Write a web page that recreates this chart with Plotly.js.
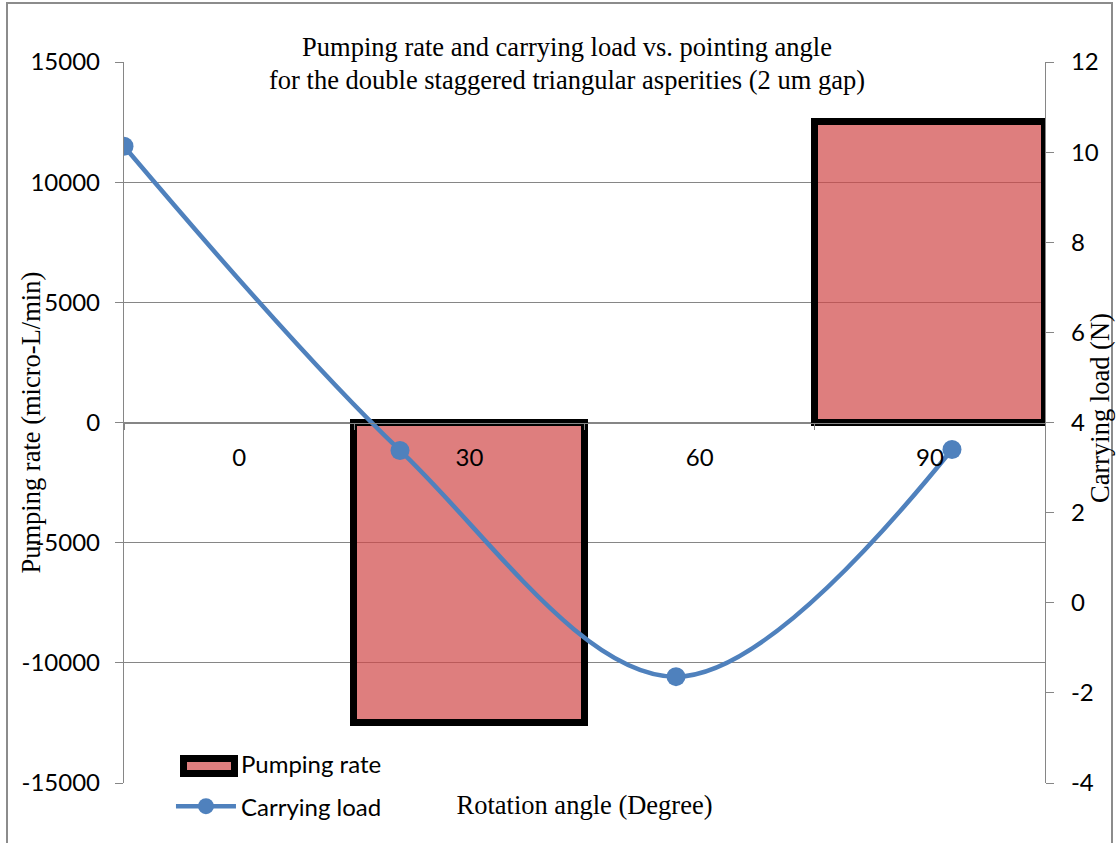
<!DOCTYPE html>
<html><head><meta charset="utf-8">
<script src="https://cdn.plot.ly/plotly-3.0.1.min.js"></script>
<style>html,body{margin:0;padding:0;background:#fff}#chart{width:1116px;height:843px}</style>
</head><body><div id="chart"></div>
<script>
// ---- data ----
const angles = ["0", "30", "60", "90"];
const pumpingRate = [null, -12500, null, 12500];      // micro-L/min
const carryingLoad = [10.13, 3.38, -1.64, 3.40];      // N
const yTicks = [-15000, -10000, -5000, 0, 5000, 10000, 15000];
const y2Ticks = [-4, -2, 0, 2, 4, 6, 8, 10, 12];
const titleLine1 = "Pumping rate and carrying load vs. pointing angle";
const titleLine2 = "for the double staggered triangular asperities (2 um gap)";
const xTitle = "Rotation angle (Degree)";
const yTitle = "Pumping rate (micro-L/min)";
const y2Title = "Carrying load (N)";

// ---- style ----
const SANS = "Lato, 'Liberation Sans', Arial, sans-serif";
const SERIF = "'Liberation Serif', 'Times New Roman', serif";
const GRID = "#868686";
const BAR_FILL = "rgba(208,71,71,0.7)";
const SERIF_SIZE = 26.5;
const SANS_SIZE = 24;

const traces = [
  {
    type: "bar", name: "Pumping rate", x: angles, y: pumpingRate,
    xaxis: "x", yaxis: "y", showlegend: false,
    marker: { color: BAR_FILL, line: { color: "#000", width: 7 } },
    hoverinfo: "x+y"
  },
  { // legend entry for the bars (key drawn as a shape below)
    type: "scatter", mode: "none", name: "Pumping rate", x: [null], y: [null],
    xaxis: "x", yaxis: "y", legendgroup: "a", showlegend: true, hoverinfo: "skip"
  },
  {
    type: "scatter", mode: "lines+markers", name: "Carrying load", x: angles, y: carryingLoad,
    xaxis: "x2", yaxis: "y2", legendgroup: "b",
    line: { color: "#4F81BD", width: 4.5, shape: "spline", smoothing: 1 },
    marker: { color: "#4F81BD", size: 19 }
  }
];

const px = v => (v - 124) / 921;          // container px -> paper x
const py = v => 1 - (v - 62) / 721;       // container px -> paper y

const layout = {
  width: 1116, height: 843,
  margin: { l: 124, r: 71, t: 62, b: 60, autoexpand: false },
  paper_bgcolor: "#fff", plot_bgcolor: "rgba(0,0,0,0)",
  showlegend: true,
  bargap: 0,
  title: {
    text: titleLine1, font: { family: SERIF, size: SERIF_SIZE, color: "#000" },
    xref: "container", x: 567 / 1116, xanchor: "center",
    yref: "container", y: 1 - 47 / 843, yanchor: "middle"
  },
  xaxis: {
    type: "category", range: [-0.5, 3.5], anchor: "free", position: 0.5,
    showline: true, linecolor: GRID, linewidth: 1.3,
    ticks: "outside", tickson: "boundaries", ticklen: 6, tickcolor: GRID, tickwidth: 1.3,
    showgrid: false, zeroline: false,
    tickfont: { family: SANS, size: SANS_SIZE, color: "#000" }, ticklabelstandoff: 14
  },
  xaxis2: {
    type: "category", overlaying: "x", anchor: "y2", side: "bottom",
    range: [0, 3.337], showticklabels: false, ticks: "", showline: false,
    showgrid: false, zeroline: false,
    title: { text: xTitle, font: { family: SERIF, size: SERIF_SIZE, color: "#000" }, standoff: 12 }
  },
  yaxis: {
    range: [-15000, 15000], tickmode: "array", tickvals: yTicks, ticktext: yTicks.map(String),
    showgrid: true, gridcolor: GRID, gridwidth: 1.3,
    showline: true, linecolor: GRID, linewidth: 1.3,
    ticks: "outside", ticklen: 8, tickcolor: GRID, tickwidth: 1.3,
    zeroline: false, ticklabelstandoff: 10,
    tickfont: { family: SANS, size: SANS_SIZE, color: "#000" }
  },
  yaxis2: {
    overlaying: "y", side: "right", range: [-4, 12],
    tickmode: "array", tickvals: y2Ticks, ticktext: y2Ticks.map(String),
    showgrid: false, zeroline: false,
    showline: true, linecolor: GRID, linewidth: 1.3,
    ticks: "outside", ticklen: 8, tickcolor: GRID, tickwidth: 1.3,
    ticklabelstandoff: 12,
    tickfont: { family: SANS, size: SANS_SIZE, color: "#000" }
  },
  legend: {
    x: 0.051, xanchor: "left", y: 0.057, yanchor: "top",
    bgcolor: "rgba(0,0,0,0)", borderwidth: 0,
    font: { family: SANS, size: SANS_SIZE, color: "#000" },
    itemwidth: 60, tracegroupgap: 8, traceorder: "grouped"
  },
  annotations: [
    { text: titleLine2, xref: "paper", yref: "paper", x: px(567), y: py(80),
      xanchor: "center", yanchor: "middle", showarrow: false,
      font: { family: SERIF, size: SERIF_SIZE, color: "#000" } },
    { text: yTitle, xref: "paper", yref: "paper", x: px(30), y: 0.5, textangle: -90,
      xanchor: "center", yanchor: "middle", showarrow: false,
      font: { family: SERIF, size: SERIF_SIZE, color: "#000" } },
    { text: y2Title, xref: "paper", yref: "paper", x: px(1100), y: py(408), textangle: -90,
      xanchor: "center", yanchor: "middle", showarrow: false,
      font: { family: SERIF, size: SERIF_SIZE, color: "#000" } }
  ],
  shapes: [
    { type: "rect", xref: "paper", yref: "paper",
      x0: px(7), x1: px(1112), y0: py(860), y1: py(3),
      line: { color: "#8C8C8C", width: 2 }, fillcolor: "rgba(0,0,0,0)", layer: "below" },
    // legend key for "Pumping rate"
    { type: "rect", xref: "paper", yref: "paper",
      x0: px(183.5), x1: px(234.5), y0: py(773.5), y1: py(758.5),
      line: { color: "#000", width: 7 }, fillcolor: BAR_FILL, layer: "above" }
  ]
};

Plotly.newPlot("chart", traces, layout, { displayModeBar: false, responsive: false });
</script>
</body></html>
